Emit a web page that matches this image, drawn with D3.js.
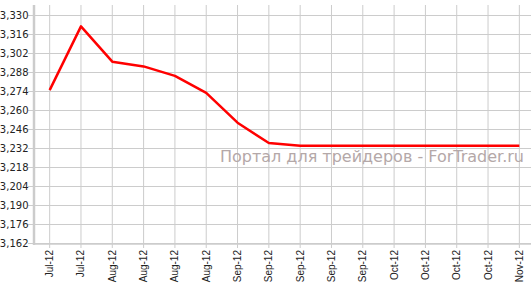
<!DOCTYPE html>
<html>
<head>
<meta charset="utf-8">
<script src="https://cdn.jsdelivr.net/npm/d3@7"></script>
<style>
  body { margin: 0; background: #fff; }
  svg { display: block; }
</style>
</head>
<body>
<script>
var width = 531,
    height = 286

// x categories as printed on the chart (duplicates are in the original)
var labels = ["Jul-12", "Jul-12", "Aug-12", "Aug-12", "Aug-12", "Aug-12",
    "Sep-12", "Sep-12", "Sep-12", "Sep-12", "Sep-12",
    "Oct-12", "Oct-12", "Oct-12", "Oct-12", "Nov-12"]
var values = [3275, 3322, 3296, 3292.5, 3285.5, 3273, 3251, 3236,
    3234, 3234, 3234, 3234, 3234, 3234, 3234, 3234]
var yTicks = [3162, 3176, 3190, 3204, 3218, 3232, 3246, 3260, 3274, 3288, 3302, 3316, 3330]

var plotLeft = 34, plotRight = 535, plotTop = 5, plotBottom = 244

var x = d3.scalePoint()
    .domain(d3.range(labels.length))
    .range([plotLeft, plotRight])
    .padding(0.5)

var y = d3.scaleLinear()
    .domain([3162, 3330])
    .range([243.5, 15.5])

var fmt = d3.format(",")

var svg = d3.select("body").append("svg")
    .attr("width", width)
    .attr("height", height)

// horizontal grid
svg.append("g")
    .selectAll("line")
    .data(yTicks)
    .enter().append("line")
    .attr("x1", 28).attr("x2", width)
    .attr("y1", d => y(d)).attr("y2", d => y(d))
    .attr("stroke", "#cccccc")

// vertical grid + x ticks
svg.append("g")
    .selectAll("line")
    .data(x.domain())
    .enter().append("line")
    .attr("x1", d => x(d)).attr("x2", d => x(d))
    .attr("y1", plotTop).attr("y2", plotBottom + 4)
    .attr("stroke", "#cccccc")

// axes lines
svg.append("line")
    .attr("x1", plotLeft).attr("x2", plotLeft)
    .attr("y1", plotTop).attr("y2", plotBottom + 1)
    .attr("stroke", "#cccccc").attr("stroke-width", 2.5)
svg.append("line")
    .attr("x1", plotLeft).attr("x2", width)
    .attr("y1", plotBottom).attr("y2", plotBottom)
    .attr("stroke", "#cccccc").attr("stroke-width", 1.5)

// y labels
svg.append("g")
    .selectAll("text")
    .data(yTicks)
    .enter().append("text")
    .attr("x", 28.5)
    .attr("y", d => y(d))
    .attr("dy", "0.35em")
    .attr("text-anchor", "end")
    .style("font", "10px 'DejaVu Sans'")
    .style("fill", "#222")
    .text(d => fmt(d))

// x labels, rotated
svg.append("g")
    .selectAll("text")
    .data(x.domain())
    .enter().append("text")
    .attr("transform", d => `translate(${x(d)},250) rotate(-90)`)
    .attr("dy", "0.35em")
    .attr("text-anchor", "end")
    .style("font", "10px 'Liberation Sans'")
    .style("fill", "#222")
    .text(d => labels[d])

// watermark
svg.append("text")
    .attr("x", 524)
    .attr("y", 162)
    .attr("text-anchor", "end")
    .style("font", "16px 'DejaVu Sans'")
    .style("fill", "#b4a8a8")
    .text("Портал для трейдеров - ForTrader.ru")

// series line
var line = d3.line()
    .x((d, i) => x(i))
    .y(d => y(d))

svg.append("path")
    .datum(values)
    .attr("d", line)
    .attr("fill", "none")
    .attr("stroke", "#ff0000")
    .attr("stroke-width", 2.5)
    .attr("stroke-linejoin", "round")
</script>
</body>
</html>
